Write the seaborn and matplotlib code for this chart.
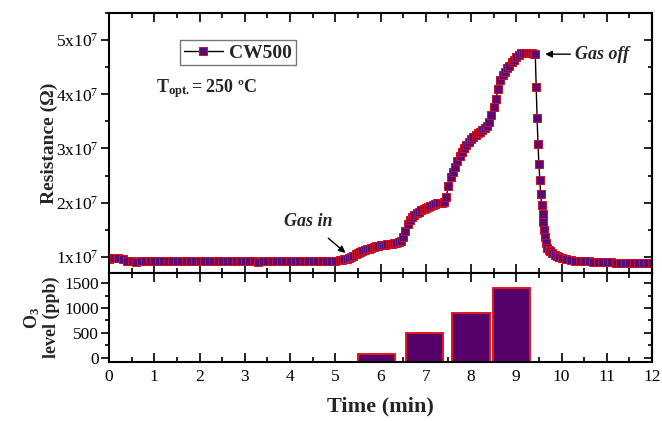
import numpy as np
import pandas as pd
import matplotlib
matplotlib.use("Agg")
import matplotlib.pyplot as plt
import seaborn as sns
from matplotlib.ticker import MultipleLocator, FuncFormatter

# ---------------- data ----------------
time_min = [
    0.0, 0.1, 0.2, 0.3, 0.4, 0.5, 0.6, 0.7, 0.8, 0.9,
    1.0, 1.1, 1.2, 1.3, 1.4, 1.5, 1.6, 1.7, 1.8, 1.9,
    2.0, 2.1, 2.2, 2.3, 2.4, 2.5, 2.6, 2.7, 2.8, 2.9,
    3.0, 3.1, 3.2, 3.3, 3.4, 3.5, 3.6, 3.7, 3.8, 3.9,
    4.0, 4.1, 4.2, 4.3, 4.4, 4.5, 4.6, 4.7, 4.8, 4.9,
    5.0, 5.1, 5.15,
    5.20, 5.25, 5.30, 5.35, 5.40, 5.45, 5.50, 5.55, 5.60, 5.65,
    5.70, 5.75, 5.80, 5.85, 5.90, 5.95, 6.00, 6.05, 6.10, 6.15,
    6.20, 6.25, 6.30, 6.35, 6.40, 6.45, 6.50, 6.55, 6.60, 6.65,
    6.70, 6.75, 6.80, 6.85, 6.90, 6.95, 7.00, 7.05, 7.10, 7.15,
    7.20, 7.25, 7.30, 7.35, 7.40, 7.45, 7.50, 7.55, 7.60, 7.65,
    7.70, 7.75, 7.80, 7.85, 7.90, 7.95, 8.00, 8.05, 8.10, 8.15,
    8.20, 8.25, 8.30, 8.35, 8.40, 8.45, 8.50, 8.55, 8.60, 8.65,
    8.70, 8.75, 8.80, 8.85, 8.90, 8.95, 9.00, 9.05, 9.10, 9.15,
    9.20, 9.25, 9.30, 9.35, 9.40, 9.42,
    9.44, 9.46, 9.48, 9.50, 9.52, 9.54, 9.56, 9.58, 9.60, 9.62,
    9.64, 9.66, 9.69, 9.72, 9.75, 9.80, 9.85, 9.90, 9.95,
    10.0, 10.1, 10.2, 10.3, 10.4, 10.5, 10.6, 10.7, 10.8, 10.9,
    11.0, 11.1, 11.2, 11.3, 11.4, 11.5, 11.6, 11.7, 11.8, 11.9, 12.0,
]
resistance_1e7 = [
    0.95, 0.97, 0.97, 0.95, 0.93, 0.92, 0.91, 0.92, 0.92, 0.93,
    0.92, 0.92, 0.92, 0.93, 0.92, 0.92, 0.93, 0.92, 0.92, 0.92,
    0.93, 0.92, 0.92, 0.93, 0.92, 0.92, 0.92, 0.93, 0.92, 0.92,
    0.92, 0.92, 0.92, 0.91, 0.92, 0.92, 0.92, 0.93, 0.93, 0.92,
    0.92, 0.93, 0.93, 0.92, 0.93, 0.92, 0.92, 0.93, 0.93, 0.92,
    0.93, 0.94, 0.94,
    0.95, 0.96, 0.97, 0.99, 1.02, 1.05, 1.07, 1.09, 1.11, 1.13,
    1.14, 1.15, 1.16, 1.18, 1.19, 1.20, 1.21, 1.22, 1.22, 1.23,
    1.24, 1.24, 1.25, 1.26, 1.27, 1.29, 1.36, 1.48, 1.60, 1.68,
    1.73, 1.77, 1.80, 1.83, 1.86, 1.88, 1.90, 1.92, 1.94, 1.96,
    1.98, 1.99, 2.00, 2.00, 2.02, 2.10, 2.30, 2.47, 2.57, 2.66,
    2.76, 2.86, 2.94, 3.01, 3.07, 3.12, 3.17, 3.21, 3.25, 3.28,
    3.31, 3.34, 3.38, 3.42, 3.49, 3.62, 3.76, 3.91, 4.10, 4.26,
    4.35, 4.42, 4.48, 4.53, 4.59, 4.64, 4.69, 4.73, 4.76, 4.77,
    4.77, 4.77, 4.76, 4.76, 4.75, 4.74,
    4.13, 3.57, 3.09, 2.71, 2.42, 2.16, 1.96, 1.79, 1.65, 1.50,
    1.37, 1.25, 1.17, 1.13, 1.10, 1.07, 1.04, 1.02, 1.00,
    0.98, 0.96, 0.945, 0.93, 0.925, 0.92, 0.915, 0.91, 0.91, 0.90,
    0.90, 0.90, 0.89, 0.89, 0.89, 0.88, 0.89, 0.88, 0.88, 0.88, 0.88,
]

bar_time_min = [5.91, 6.98, 8.00, 8.90]
o3_ppb = [80, 500, 900, 1400]

series_label = "CW500"
# --------------------------------------

sns.set_theme(style="ticks")
plt.rcParams.update({
    "font.family": ["Liberation Serif", "DejaVu Serif"],
    "mathtext.fontset": "custom",
    "mathtext.rm": "Liberation Serif",
    "mathtext.it": "Liberation Serif:italic",
    "mathtext.bf": "Liberation Serif:bold",
    "axes.linewidth": 1.5,
    "axes.edgecolor": "black",
    "xtick.color": "black",
    "ytick.color": "black",
    "xtick.labelsize": 12.5,
    "ytick.labelsize": 12.5,
})

df_line = pd.DataFrame({"time": time_min, "res": resistance_1e7})
df_bar = pd.DataFrame({"time": bar_time_min, "o3": o3_ppb})

fig = plt.figure(figsize=(6.62, 4.21), dpi=100)
left, width = 0.1647, 0.8202
ax1 = fig.add_axes([left, 0.3515, width, 0.6176])
ax2 = fig.add_axes([left, 0.1390, width, 0.2125])

for ax in (ax1, ax2):
    ax.set_facecolor("white")
    for s in ax.spines.values():
        s.set_visible(True)
        s.set_linewidth(1.5)

# ---- top panel: resistance ----
sns.lineplot(data=df_line, x="time", y="res", ax=ax1, estimator=None, sort=False,
             color="black", linewidth=1.0, marker="s", markersize=5.6,
             markerfacecolor="#5c0a73", markeredgecolor="#cc1025",
             markeredgewidth=0.7, label=series_label, legend=False)
ax1.set_xlim(0, 12)
ax1.set_ylim(0.7, 5.5)
ax1.set_xlabel("")
ax1.set_ylabel("Resistance (Ω)", fontsize=14, fontweight="bold")
ax1.yaxis.set_label_coords(-0.094, 0.5)
ax1.xaxis.set_major_locator(MultipleLocator(1))
ax1.xaxis.set_minor_locator(MultipleLocator(0.5))
ax1.yaxis.set_major_locator(MultipleLocator(1))
ax1.yaxis.set_minor_locator(MultipleLocator(0.5))
ax1.yaxis.set_major_formatter(FuncFormatter(lambda v, p: r"$%d\mathrm{x}10^{7}$" % round(v)))
ax1.tick_params(axis="x", which="both", direction="in", top=True, bottom=True,
                labelbottom=False, width=1.2)
ax1.tick_params(axis="x", which="major", length=6.5)
ax1.tick_params(axis="x", which="minor", length=3.5)
ax1.tick_params(axis="y", which="both", direction="out", left=True, right=False,
                width=1.2, pad=2)
ax1.tick_params(axis="y", which="major", length=5.5)
ax1.tick_params(axis="y", which="minor", length=3)
sec1 = ax1.secondary_yaxis("right")
sec1.yaxis.set_major_locator(MultipleLocator(1))
sec1.yaxis.set_minor_locator(MultipleLocator(0.5))
sec1.tick_params(axis="y", which="both", direction="in", labelright=False, width=1.2)
sec1.tick_params(axis="y", which="major", length=5.5)
sec1.tick_params(axis="y", which="minor", length=3)
sec1.spines["right"].set_linewidth(1.5)

leg = ax1.legend(loc="upper left", bbox_to_anchor=(0.131, 0.896), frameon=True,
                 fancybox=False, edgecolor="#777777", framealpha=1,
                 prop={"weight": "bold", "size": 14}, handlelength=2.0,
                 borderpad=0.2, handletextpad=0.3, borderaxespad=0)
leg.get_frame().set_linewidth(1.0)

ax1.text(0.0866, 0.708, r"T$_{\mathbf{opt.}}$= 250 ºC", transform=ax1.transAxes,
         fontsize=13, fontweight="bold", ha="left", va="center")

ax1.annotate("Gas in", xy=(5.25, 1.055), xytext=(4.40, 1.66),
             ha="center", va="center", fontsize=13, fontweight="bold",
             fontstyle="italic",
             arrowprops=dict(arrowstyle="-|>", color="black", lw=1.0,
                             shrinkA=6, shrinkB=1, mutation_scale=10))
ax1.annotate("Gas off", xy=(9.64, 4.74), xytext=(10.30, 4.74),
             ha="left", va="center", fontsize=13, fontweight="bold",
             fontstyle="italic",
             arrowprops=dict(arrowstyle="-|>", color="black", lw=1.0,
                             shrinkA=1, shrinkB=0, mutation_scale=10))

# ---- bottom panel: O3 level ----
sns.barplot(data=df_bar, x="time", y="o3", ax=ax2, native_scale=True, orient="x",
            width=0.82 / 0.9, color="#56006a", saturation=1, errorbar=None,
            edgecolor="#e8141e", linewidth=1.4)
ybot = -90
for p in ax2.patches:
    h = p.get_height()
    p.set_y(ybot)
    p.set_height(h - ybot)
ax2.set_xlim(0, 12)
ax2.set_ylim(ybot, 1700)
ax2.xaxis.set_major_locator(MultipleLocator(1))
ax2.xaxis.set_minor_locator(MultipleLocator(0.5))
ax2.xaxis.set_major_formatter(FuncFormatter(lambda v, p: "%d" % round(v)))
ax2.yaxis.set_major_locator(MultipleLocator(500))
ax2.yaxis.set_minor_locator(MultipleLocator(250))
ax2.tick_params(axis="x", which="both", direction="in", top=True, bottom=True,
                width=1.2, pad=5)
ax2.tick_params(axis="x", which="major", length=6.5)
ax2.tick_params(axis="x", which="minor", length=3.5)
ax2.tick_params(axis="y", which="both", direction="out", left=True, right=False,
                width=1.2, pad=2)
ax2.tick_params(axis="y", which="major", length=5.5)
ax2.tick_params(axis="y", which="minor", length=3)
sec2 = ax2.secondary_yaxis("right")
sec2.yaxis.set_major_locator(MultipleLocator(500))
sec2.yaxis.set_minor_locator(MultipleLocator(250))
sec2.tick_params(axis="y", which="both", direction="in", labelright=False, width=1.2)
sec2.tick_params(axis="y", which="major", length=5.5)
sec2.tick_params(axis="y", which="minor", length=3)
sec2.spines["right"].set_linewidth(1.5)

ax2.set_xlabel("Time (min)", fontsize=16, fontweight="bold")
ax2.xaxis.set_label_coords(0.5, -0.38)
ax2.set_ylabel("O$_\\mathbf{3}$\nlevel (ppb)", fontsize=13, fontweight="bold",
               linespacing=1.1)
ax2.yaxis.set_label_coords(-0.09, 0.5)

fig.savefig("out.png", dpi=100)
